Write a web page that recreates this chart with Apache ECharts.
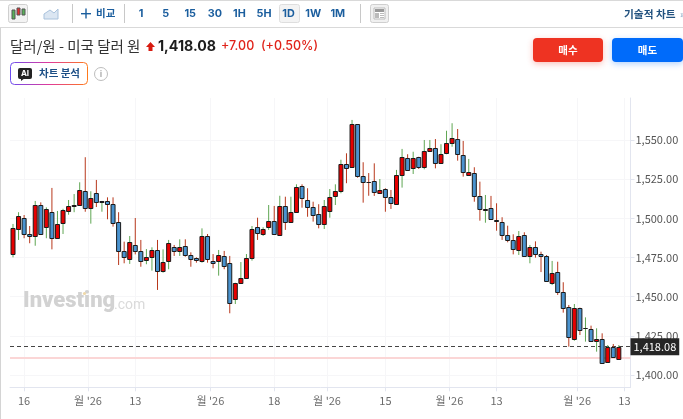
<!DOCTYPE html>
<html><head><meta charset="utf-8">
<style>html,body{margin:0;padding:0;background:#fff}#c{width:683px;height:419px}</style>
<script src="https://cdn.jsdelivr.net/npm/echarts@6/dist/echarts.min.js"></script>
</head><body><div id="c"></div>
<script>
const opens=[1477.0,1493.6,1500.0,1490.0,1488.7,1508.5,1494.5,1504.2,1487.3,1496.8,
1505.1,1508.1,1508.7,1517.6,1506.4,1516.0,1510.4,1510.9,1509.1,1497.5,
1479.0,1474.2,1483.2,1479.3,1473.2,1475.3,1480.0,1466.4,1472.6,1481.5,
1478.7,1482.5,1476.4,1474.5,1473.2,1488.9,1473.0,1472.6,1476.0,1471.3,
1448.3,1458.5,1461.9,1474.7,1494.3,1490.2,1494.0,1498.1,1489.4,1508.1,
1497.7,1504.0,1520.4,1511.9,1507.4,1502.6,1496.2,1504.7,1514.1,1517.4,
1534.9,1532.8,1560.0,1527.0,1523.4,1523.6,1516.4,1518.7,1513.6,1509.0,
1527.7,1538.3,1531.7,1539.0,1532.8,1543.0,1545.1,1535.5,1541.3,1547.9,
1550.6,1540.2,1527.7,1528.7,1514.1,1505.3,1506.4,1498.7,1497.9,1489.6,
1486.2,1479.3,1489.6,1476.0,1481.5,1477.0,1476.0,1459.2,1465.9,1453.2,
1443.2,1423.4,1443.0,1429.6,1429.4,1421.7,1423.2,1408.1,1417.9,1410.7];
const closes=[1493.6,1501.7,1490.0,1488.5,1508.5,1490.0,1505.8,1487.3,1496.2,1505.1,
1508.1,1508.7,1518.1,1507.0,1513.0,1510.2,1510.9,1509.1,1496.8,1479.0,
1474.9,1484.9,1479.6,1472.6,1475.3,1479.8,1466.8,1471.9,1484.1,1478.7,
1481.5,1476.6,1473.9,1473.0,1488.9,1474.5,1471.5,1476.4,1469.4,1445.8,
1458.5,1461.9,1474.5,1493.2,1490.2,1493.4,1498.1,1489.6,1508.1,1497.9,
1504.0,1520.2,1512.8,1507.7,1502.6,1496.2,1507.7,1513.6,1517.6,1534.9,
1532.6,1560.0,1527.0,1523.2,1523.2,1516.4,1518.1,1513.6,1509.6,1527.7,
1539.0,1530.7,1538.3,1532.8,1543.0,1545.1,1535.8,1541.3,1547.9,1551.4,
1540.9,1529.4,1529.4,1514.3,1505.8,1505.8,1499.4,1498.3,1489.6,1486.2,
1480.2,1488.5,1476.0,1481.5,1477.2,1476.0,1459.8,1465.3,1453.0,1442.8,
1423.8,1443.0,1429.2,1429.8,1421.5,1423.0,1408.1,1417.7,1411.3,1418.08];
const lows=[1475.1,1486.2,1487.3,1484.1,1482.5,1489.4,1487.3,1480.2,1487.3,1490.0,
1502.3,1503.9,1508.5,1504.2,1496.6,1507.2,1504.2,1499.4,1494.7,1470.2,
1471.3,1470.9,1477.0,1469.1,1470.7,1466.6,1454.3,1465.3,1467.5,1476.0,
1476.0,1475.5,1469.1,1471.7,1471.7,1471.7,1468.1,1463.4,1467.5,1439.4,
1445.3,1458.1,1461.5,1473.0,1486.2,1488.7,1492.6,1489.4,1488.9,1492.6,
1497.2,1503.9,1506.8,1501.0,1497.9,1493.6,1493.2,1500.4,1508.5,1516.0,
1522.4,1532.6,1525.9,1510.0,1514.4,1514.3,1515.7,1504.2,1506.0,1508.7,
1519.6,1530.2,1528.3,1531.5,1531.3,1542.5,1531.9,1535.1,1540.9,1545.7,
1536.8,1526.6,1527.5,1510.6,1498.5,1497.2,1499.4,1492.1,1486.2,1484.7,
1477.0,1476.6,1475.5,1471.3,1474.9,1465.7,1459.6,1457.4,1451.1,1439.8,
1418.1,1421.9,1425.5,1421.3,1421.5,1414.9,1407.5,1408.1,1410.9,1410.4];
const highs=[1496.4,1503.9,1502.1,1495.1,1511.1,1510.2,1507.0,1519.4,1504.7,1506.1,
1511.7,1515.5,1523.0,1539.0,1517.3,1524.5,1511.1,1513.4,1513.4,1503.9,
1485.1,1488.7,1500.2,1486.2,1480.4,1481.5,1486.2,1480.2,1486.2,1483.0,
1486.6,1486.6,1478.3,1475.1,1493.6,1490.0,1477.2,1479.8,1479.2,1476.0,
1458.9,1472.1,1477.2,1495.1,1500.4,1494.3,1508.5,1507.9,1514.4,1513.8,
1513.8,1521.7,1521.7,1519.2,1510.6,1509.0,1511.7,1518.7,1521.7,1537.4,
1541.5,1562.8,1560.0,1535.8,1528.9,1535.1,1525.1,1519.2,1518.1,1530.9,
1544.3,1540.9,1542.5,1539.3,1550.0,1550.0,1550.6,1547.3,1555.9,1560.7,
1557.0,1549.4,1537.9,1532.6,1523.4,1514.9,1514.3,1509.6,1500.7,1495.3,
1489.8,1491.9,1491.1,1483.0,1485.3,1478.7,1476.6,1472.8,1472.3,1459.2,
1444.7,1445.3,1443.0,1436.8,1431.5,1429.8,1426.6,1419.1,1419.8,1419.1];
const xTicks=[2,13.5,22,35.5,47,56.5,67,78.5,87,101.5,110];
const xTickLabels=["16","월 '26","13","월 '26","18","월 '26","15","월 '26","13","월 '26","13"];
const yTicks=[1400,1425,1450,1475,1500,1525,1550];
const lastPrice=1418.08;
const pinkLevel=1410.85;
const rows=opens.map((o,i)=>[i,o,closes[i],lows[i],highs[i]]);

const KR='"Noto Sans CJK KR","Noto Sans",sans-serif';
const LAT='Inter,"Noto Sans CJK KR",sans-serif';
const BLUE='#1b5e9e';
const txt=(x,y,s,size,fill,weight,align,font)=>({type:'text',x,y,silent:true,z:50,style:{text:s,fontSize:size,fill,fontWeight:weight||'normal',align:align||'left',verticalAlign:'middle',fontFamily:font||KR}});
const rect=(x,y,w,h,fill,stroke,r,extra)=>({type:'rect',silent:true,z:49,shape:{x,y,width:w,height:h,r:r||0},style:Object.assign({fill,stroke:stroke||null,lineWidth:1},extra||{})});
const gfx=[
 rect(0,0,683,1,'#d9d9d9'),rect(0,27,683,1,'#d9d9d9'),rect(0,28,1,391,'#d4d4d4'),
 rect(8.5,4.5,19,18,'#f3f3f3','#cfcfcf',2),
 rect(12,10,3,9,'#58b058','#555'),rect(17,8,3,7,'#e03030','#555'),rect(22,9,3,6,'#58b058','#555'),
 {type:'polygon',silent:true,z:49,shape:{points:[[44,19],[44,14],[50,10],[54,13],[58,9],[58,19]]},style:{fill:'#dbe6f2',stroke:'#a9c2dc',lineWidth:1}},
 rect(72,4,1,19,'#c8c8c8'),rect(124,4,1,19,'#c8c8c8'),rect(360,4,1,19,'#c8c8c8'),
 rect(81,13,10,1.4,BLUE),rect(85.3,8.6,1.4,10,BLUE),
 txt(96,13.5,'비교',10.5,BLUE,'bold'),
 rect(279.5,4.5,20,18,'#f3f3f3','#dedede',2),
 rect(370.5,4.5,18,18,'#f0f0f0','#cfcfcf',2),
 rect(374,8,11,11,'#fff','#bbb'),rect(375,9,9,3,'#999'),rect(375,13,4,5,'#bbb'),rect(380,13,4,1,'#bbb'),rect(380,15,4,1,'#bbb'),rect(380,17,4,1,'#bbb'),
 txt(624,13.5,'기술적 차트',10.7,'#22527f','bold'),
 txt(680,14,'»',10,'#7f9fbf','normal'),
 txt(10,46,'달러/원 - 미국 달러 원',14.5,'#333'),
 {type:'polygon',silent:true,z:49,shape:{points:[[146,47],[150.5,42],[155,47],[152.5,47],[152.5,51],[148.5,51],[148.5,47]]},style:{fill:'#d81b10'}},
 txt(158,46.5,'1,418.08',14.2,'#1c1c1c','bold',null,LAT),
 txt(221,46.5,'+7.00',12.5,'#e0231a','500',null,LAT),
 txt(261,46.5,'(+0.50%)',12.5,'#e0231a','500',null,LAT),
 rect(533,38,70,24,'#ee3322',null,4,{shadowBlur:6,shadowColor:'rgba(238,51,34,0.3)',shadowOffsetY:2}),
 rect(612,38,71,24,'#006bfa',null,4,{shadowBlur:6,shadowColor:'rgba(0,107,250,0.3)',shadowOffsetY:2}),
 txt(568,50,'매수',10.5,'#fff','bold','center'),
 txt(647.5,50,'매도',10.5,'#fff','bold','center'),
 {type:'rect',silent:true,z:49,shape:{x:10.5,y:62.5,width:77,height:22,r:4},style:{fill:'#fff',lineWidth:1,stroke:new echarts.graphic.LinearGradient(0,0,1,0,[{offset:0,color:'#6a4cf0'},{offset:0.5,color:'#e03a9a'},{offset:1,color:'#ff7a1a'}])}},
 rect(18,68,14,11,'#222',null,2),
 {type:'polygon',silent:true,z:49,shape:{points:[[21,78],[25,78],[21,81]]},style:{fill:'#222'}},
 txt(25,73.7,'AI',8,'#fff','bold','center',LAT),
 txt(39,73.5,'차트 분석',10.5,'#1c4f86','bold'),
 {type:'circle',silent:true,z:49,shape:{cx:101,cy:74,r:6.5},style:{fill:'#fff',stroke:'#bdbdbd',lineWidth:1}},
 txt(101,74.3,'i',9,'#b0b0b0','bold','center',LAT),
 txt(23,301.5,'Investing',22,'#d2d2d2','900',null,'Roboto,sans-serif'),
 {type:'circle',silent:true,z:51,shape:{cx:84.5,cy:293.5,r:1.6},style:{fill:'#f0d9a8'}},
 txt(114,305,'.com',14,'#dadada','normal',null,'Roboto,sans-serif')
];
['1','5','15','30','1H','5H','1D','1W','1M'].forEach((s,i)=>{
 gfx.push(txt(141+i*24.6,13.5,s,10.8,BLUE,'bold','center',LAT));
});

function renderCandle(params,api){
 const i=api.value(0),o=api.value(1),c=api.value(2),l=api.value(3),h=api.value(4);
 const up=c>=o;
 const pO=api.coord([i,o]),pC=api.coord([i,c]),pL=api.coord([i,l]),pH=api.coord([i,h]);
 const x=pO[0],top=Math.min(pO[1],pC[1]),bot=Math.max(pO[1],pC[1]);
 const rx=x-2, ty=Math.round(top)+0.5, hh=Math.max(Math.round(bot-top),0);
 return {type:'group',children:[
  {type:'line',shape:{x1:x,y1:pH[1],x2:x,y2:pL[1]},style:{stroke:up?'#5fa653':'#b8381c',lineWidth:1,fill:null}},
  {type:'rect',shape:{x:rx,y:ty,width:4,height:hh},style:{fill:up?'#e60000':'#4a93cf',stroke:'#1a1a1a',lineWidth:1}}
 ]};
}
const chart=echarts.init(document.getElementById('c'),null,{renderer:'canvas'});
chart.setOption({
 animation:false,
 backgroundColor:'#fff',
 graphic:gfx,
 grid:{left:10,right:52.5,top:98,bottom:31.7,containLabel:false},
 xAxis:{type:'value',min:-0.54,max:111.1,
  axisLine:{show:true,onZero:false,lineStyle:{color:'#e2e5ef'}},
  axisTick:{show:true,length:4,customValues:xTicks,lineStyle:{color:'#e2e5ef'}},
  splitLine:{show:true,lineStyle:{color:'#f6f6f8'}},
  axisLabel:{show:true,customValues:xTicks,margin:8,fontSize:11,color:'#6b6b6b',fontFamily:KR,hideOverlap:false,showMinLabel:true,showMaxLabel:true,
   formatter:(v)=>{const k=xTicks.indexOf(v);return k>=0?xTickLabels[k]:'';}}},
 yAxis:{type:'value',position:'right',min:1392.15,max:1576.8,scale:true,
  axisLine:{show:true,onZero:false,lineStyle:{color:'#e2e5ef'}},
  axisTick:{show:true,length:4,customValues:yTicks,lineStyle:{color:'#e2e5ef'}},
  splitLine:{show:true,lineStyle:{color:'#f6f6f8'}},
  axisLabel:{show:true,customValues:yTicks,margin:5,fontSize:11,color:'#555',fontFamily:KR,
   formatter:(v)=>v.toLocaleString('en-US',{minimumFractionDigits:2,maximumFractionDigits:2})}},
 series:[{type:'custom',renderItem:renderCandle,data:rows,encode:{x:0,y:[1,2,3,4]},silent:true,clip:true,z:3,
  markLine:{silent:true,symbol:'none',animation:false,z:2,precision:2,data:[
   {yAxis:pinkLevel,lineStyle:{color:'#fbd6d6',type:'solid',width:2},label:{show:false}},
   {yAxis:lastPrice,lineStyle:{color:'#444',type:[4,3],width:1},
    label:{show:true,position:'end',distance:0,formatter:'1,418.08',backgroundColor:'#262626',color:'#fff',fontSize:11,fontFamily:KR,padding:[3,3,3,3]}}
  ]}}]
});
</script></body></html>
